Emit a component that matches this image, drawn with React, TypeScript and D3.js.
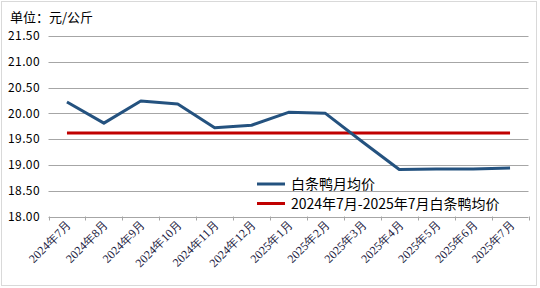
import React from "react";
import * as d3 from "d3";

const categories = ["2024年7月","2024年8月","2024年9月","2024年10月","2024年11月","2024年12月","2025年1月","2025年2月","2025年3月","2025年4月","2025年5月","2025年6月","2025年7月"];
const monthlyAvg = [20.22,19.81,20.24,20.18,19.72,19.77,20.02,20.0,19.45,18.91,18.92,18.92,18.94];
const periodAvg = [19.62,19.62,19.62,19.62,19.62,19.62,19.62,19.62,19.62,19.62,19.62,19.62,19.62];
const yTicks = [18.0,18.5,19.0,19.5,20.0,20.5,21.0,21.5];
const seriesNames = ["白条鸭月均价","2024年7月-2025年7月白条鸭均价"];

const W = 540, H = 288;
const left = 48.5, right = 528.5, top = 36, bottom = 216.5;

export default function App() {
  const x = d3.scaleBand<string>().domain(categories).range([left, right]);
  const y = d3.scaleLinear().domain([18, 21.5]).range([bottom, top]);
  const cx = (c: string) => (x(c) as number) + x.bandwidth() / 2;
  const line = d3.line<number>().x((_, i) => cx(categories[i])).y(d => y(d));
  const cjk = "'Noto Sans CJK SC', sans-serif";
  return (
    <svg width={W} height={H} style={{ position: "absolute", left: 0, top: 0, background: "#fff" }}>
      <rect x={1.5} y={1.5} width={535} height={284} fill="#fff" stroke="#d9d9d9" />
      <text x={10} y={22} fontSize={13} fontFamily={cjk} fill="#000">单位：元/公斤</text>
      {yTicks.map(t => (
        <g key={t}>
          <line x1={left} x2={right} y1={Math.round(y(t)) + 0.5} y2={Math.round(y(t)) + 0.5} stroke="#a6a6a6" strokeWidth={1} />
          <text x={40} y={y(t)} dy="0.35em" textAnchor="end" fontSize={12} letterSpacing={0.4} fontFamily={cjk} fill="#000">{t.toFixed(2)}</text>
        </g>
      ))}
      {categories.concat([""]).map((c, i) => {
        const xx = Math.round(left + i * x.step()) + 0.5;
        return <line key={"tk" + i} x1={xx} x2={xx} y1={bottom} y2={bottom + 4} stroke="#a6a6a6" />;
      })}
      {categories.map(c => (
        <text key={c} transform={`translate(${cx(c) + 5},${bottom + 9}) rotate(-45)`} textAnchor="end" fontSize={12} fontFamily="'Liberation Serif', serif" fill="#1a1a40">{c}</text>
      ))}
      <path d={line(periodAvg) || ""} fill="none" stroke="#c00000" strokeWidth={3} />
      <path d={line(monthlyAvg) || ""} fill="none" stroke="#24527f" strokeWidth={3} strokeLinejoin="round" />
      <g>
        <line x1={257} x2={285} y1={184} y2={184} stroke="#24527f" strokeWidth={3} />
        <text x={291} y={189} fontSize={14} fontFamily={cjk} fill="#000">{seriesNames[0]}</text>
        <line x1={257} x2={285} y1={203.5} y2={203.5} stroke="#c00000" strokeWidth={3} />
        <text x={291} y={209} fontSize={14} fontFamily={cjk} fill="#000">{seriesNames[1]}</text>
      </g>
    </svg>
  );
}
